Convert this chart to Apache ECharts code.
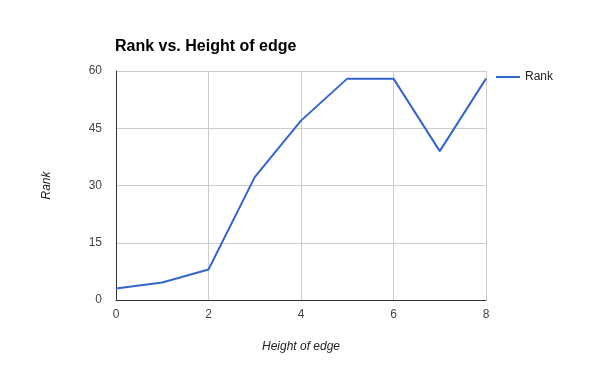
<!DOCTYPE html>
<html>
<head>
<meta charset="utf-8">
<script src="https://cdn.jsdelivr.net/npm/echarts@6/dist/echarts.min.js"></script>
<style>
  html, body { margin: 0; padding: 0; background: #fff; }
  #chart { width: 600px; height: 371px; }
</style>
</head>
<body>
<div id="chart"></div>
<script>
// data
const heights = [0, 1, 2, 3, 4, 5, 6, 7, 8];
const rank = [3, 4.6, 8, 32.2, 47, 58, 58, 39, 58];

const chart = echarts.init(document.getElementById('chart'));
chart.setOption({
  animation: false,
  textStyle: { fontFamily: 'Liberation Sans, Arial, sans-serif' },
  title: {
    text: 'Rank vs. Height of edge',
    left: 110,
    top: 34,
    textStyle: { fontSize: 16, fontWeight: 'bold', color: '#000', fontFamily: 'Liberation Sans, Arial, sans-serif' },
  },
  legend: {
    right: 42,
    top: 66,
    itemWidth: 24,
    itemHeight: 2,
    itemGap: 5,
    icon: 'rect',
    textStyle: { fontSize: 12, color: '#222' },
    data: ['Rank'],
  },
  grid: { left: 116, right: 114, top: 71, bottom: 71 },
  xAxis: {
    type: 'value',
    min: 0, max: 8, interval: 2,
    name: 'Height of edge',
    nameLocation: 'middle',
    nameGap: 41,
    nameTextStyle: { fontStyle: 'italic', fontSize: 12, color: '#222' },
    axisLine: { onZero: false, lineStyle: { color: '#333', width: 1 } },
    axisTick: { show: false },
    axisLabel: { color: '#444', fontSize: 12, margin: 9 },
    splitLine: { show: true, lineStyle: { color: '#ccc' } },
  },
  yAxis: {
    type: 'value',
    min: 0, max: 60, interval: 15,
    name: 'Rank',
    nameLocation: 'middle',
    nameGap: 63,
    nameTextStyle: { fontStyle: 'italic', fontSize: 12, color: '#222' },
    axisLine: { show: true, lineStyle: { color: '#333', width: 1 } },
    axisTick: { show: false },
    axisLabel: { color: '#444', fontSize: 12, margin: 14 },
    splitLine: { show: true, lineStyle: { color: '#ccc' } },
  },
  series: [{
    name: 'Rank',
    type: 'line',
    data: heights.map((h, i) => [h, rank[i]]),
    showSymbol: false,
    symbol: 'none',
    lineStyle: { color: '#3366cc', width: 2 },
    itemStyle: { color: '#3366cc' },
  }],
});
</script>
</body>
</html>
